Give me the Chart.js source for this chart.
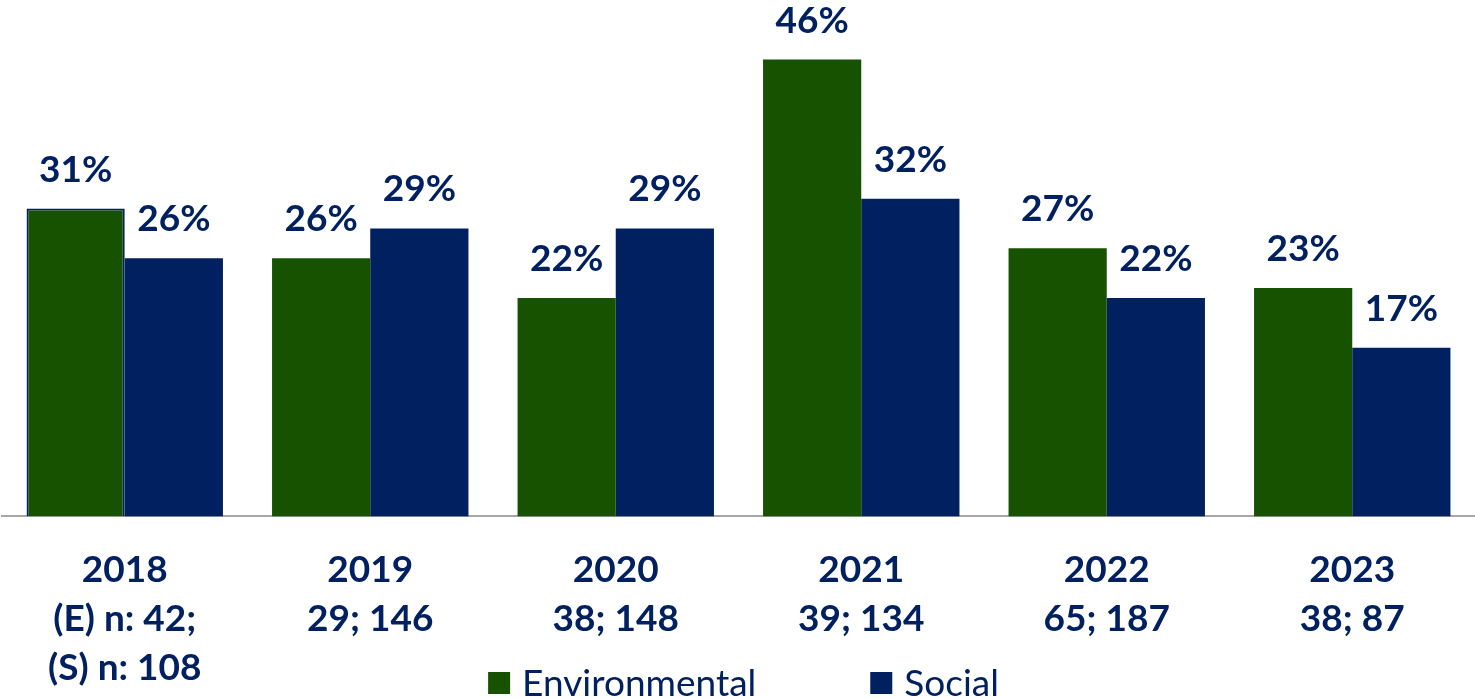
<!DOCTYPE html>
<html>
<head>
<meta charset="utf-8">
<script src="https://cdn.jsdelivr.net/npm/chart.js@4.4.0/dist/chart.umd.min.js"></script>
<style>
  html, body { margin: 0; padding: 0; background: #fff; }
  #box { width: 1475px; height: 699px; }
</style>
</head>
<body>
<div id="box"><canvas id="myChart"></canvas></div>
<script>
const years = ['2018', '2019', '2020', '2021', '2022', '2023'];
const sampleSizes = [['(E) n: 42;', '(S) n: 108'], ['29; 146'], ['38; 148'], ['39; 134'], ['65; 187'], ['38; 87']];
const environmental = [31, 26, 22, 46, 27, 23];
const social = [26, 29, 29, 32, 22, 17];

const green = '#175200';
const navy = '#002060';
const fonte = 'Lato, "Open Sans", sans-serif';

const ctx = document.getElementById('myChart');

// value labels above the bars + legend at the bottom
const extras = {
  id: 'extras',
  afterDatasetsDraw(chart) {
    const c = chart.ctx;
    c.save();
    c.font = 'bold 37px ' + fonte;
    c.fillStyle = navy;
    c.textAlign = 'center';
    c.textBaseline = 'alphabetic';
    chart.data.datasets.forEach((ds, i) => {
      chart.getDatasetMeta(i).data.forEach((bar, j) => {
        c.fillText(ds.data[j] + '%', bar.x, bar.y - 27);
      });
    });

    c.font = '37px ' + fonte;
    c.textAlign = 'left';
    const box = 22, gapText = 12, gapItem = 114;
    const items = chart.data.datasets.map(ds => ({ label: ds.label, color: ds.backgroundColor, w: c.measureText(ds.label).width }));
    let total = 0;
    items.forEach((it, k) => { total += box + gapText + it.w + (k ? gapItem : 0); });
    let x = chart.width / 2 + 6 - total / 2;
    const base = chart.height - 3;
    items.forEach(it => {
      c.fillStyle = it.color;
      c.fillRect(x, base - 24, box, box);
      c.fillStyle = navy;
      c.fillText(it.label, x + box + gapText, base);
      x += box + gapText + it.w + gapItem;
    });
    c.restore();
  }
};

new Chart(ctx, {
  type: 'bar',
  data: {
    labels: years.map((y, i) => [y].concat(sampleSizes[i])),
    datasets: [{
      label: 'Environmental',
      data: environmental,
      backgroundColor: green,
      borderColor: [navy, green, green, green, green, green],
      borderWidth: [2, 0, 0, 0, 0, 0]
    }, {
      label: 'Social',
      data: social,
      backgroundColor: navy,
      borderWidth: 0
    }]
  },
  options: {
    responsive: true,
    maintainAspectRatio: false,
    animation: false,
    layout: { padding: { top: 0, left: 2, right: 0, bottom: -22 } },
    datasets: { bar: { categoryPercentage: 0.8, barPercentage: 1 } },
    plugins: {
      legend: { display: false },
      tooltip: { enabled: false }
    },
    scales: {
      x: {
        grid: { display: false, drawTicks: false },
        border: { display: true, color: '#a6a6a6', width: 2 },
        ticks: {
          color: navy,
          padding: 29,
          maxRotation: 0,
          autoSkip: false,
          font: { family: fonte, size: 37, weight: 'bold', lineHeight: 1.32 }
        }
      },
      y: {
        display: false,
        min: 0,
        max: 52
      }
    }
  },
  plugins: [extras]
});
</script>
</body>
</html>
